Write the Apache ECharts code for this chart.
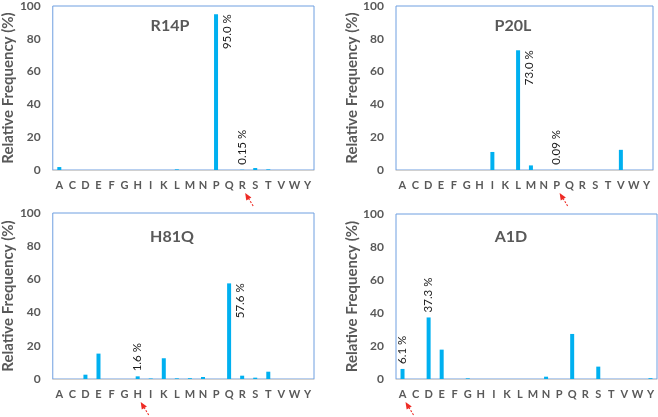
<!DOCTYPE html>
<html><head><meta charset="utf-8">
<script src="https://cdn.jsdelivr.net/npm/echarts@6/dist/echarts.min.js"></script>
<style>html,body{margin:0;padding:0;background:#fff}#c{width:658px;height:417px}</style>
</head><body><div id="c"></div>
<script>
const categories = ['A','C','D','E','F','G','H','I','K','L','M','N','P','Q','R','S','T','V','W','Y'];
const panelTitles = ['R14P','P20L','H81Q','A1D'];
//                 A    C  D    E    F  G    H    I    K    L    M    N    P     Q     R     S    T    V     W  Y
const r14pValues = [1.8, 0, 0,   0,   0, 0,   0,   0,   0,   0.4, 0,   0,   95.0, 0,    0.15, 1.2, 0.4, 0,    0, 0];
const p20lValues = [0,   0, 0,   0,   0, 0,   0,   11.0,0,   73.0,2.8, 0,   0.09, 0,    0,    0,   0,   12.3, 0, 0];
const h81qValues = [0,   0, 2.6, 15.3,0, 0,   1.6, 0.3, 12.5,0.4, 0.5, 1.2, 0,    57.6, 2.0,  0.8, 4.4, 0,    0, 0];
const a1dValues  = [6.1, 0, 37.3,17.8,0, 0.4, 0,   0,   0,   0,   0,   1.4, 0,    27.3, 0,    7.5, 0,   0,    0, 0.5];
const r14pNotes = {P:'95.0 %', R:'0.15 %'};
const p20lNotes = {L:'73.0 %', P:'0.09 %'};
const h81qNotes = {H:'1.6 %', Q:'57.6 %'};
const a1dNotes  = {A:'6.1 %', D:'37.3 %'};
const mutatedResidues = ['R','P','H','A'];
const yTicks = [0,20,40,60,80,100];
const yAxisName = 'Relative Frequency (%)';

const panelValues = [r14pValues, p20lValues, h81qValues, a1dValues];
const panelNotes = [r14pNotes, p20lNotes, h81qNotes, a1dNotes];

const FONT = 'Lato';
const GRAY = '#595959';
const grids = [
  {left:52, top:4, width:262, height:166},
  {left:396, top:4, width:257, height:166},
  {left:52, top:213, width:262, height:166},
  {left:396, top:214, width:261, height:165}
];
const titlePos = [[170,18],[513,18],[172,229],[511,229]];

function buildData(values, notes){
  return values.map((v,i)=>{
    const note = notes[categories[i]];
    if(!note) return v;
    if (v > 50) {
      return {value:v, label:{show:true, formatter:note, position:[13,0], rotate:90, align:'right', verticalAlign:'middle'}};
    }
    return {value:v, label:{show:true, formatter:note, position:'top', distance:5, rotate:90, align:'left', verticalAlign:'middle'}};
  });
}

const chart = echarts.init(document.getElementById('c'), null, {renderer:'canvas'});
const option = {
  animation:false,
  backgroundColor:'#fff',
  title: panelTitles.map((t,i)=>({text:t, left:titlePos[i][0], top:titlePos[i][1], textAlign:'center', padding:0,
    textStyle:{fontFamily:FONT, fontSize:16, fontWeight:'bold', color:GRAY}})),
  grid: grids.map(g=>Object.assign({show:true, borderColor:'#6f9fe0', borderWidth:1, backgroundColor:'transparent'}, g)),
  xAxis: grids.map((g,i)=>({type:'category', gridIndex:i, data:categories,
    axisLine:{show:true, lineStyle:{color:'#d0d0d0', width:1}}, axisTick:{show:false},
    axisLabel:{interval:0, margin:10, color:GRAY, fontFamily:FONT, fontSize:11, fontWeight:'bold'}})),
  yAxis: grids.map((g,i)=>({type:'value', gridIndex:i, min:yTicks[0], max:yTicks[yTicks.length-1], interval:yTicks[1]-yTicks[0],
    name:yAxisName, nameLocation:'middle', nameGap:32,
    nameTextStyle:{fontFamily:FONT, fontSize:15, fontWeight:'bold', color:GRAY},
    axisLine:{show:false}, axisTick:{show:false}, splitLine:{show:false},
    axisLabel:{margin:12, color:GRAY, fontFamily:FONT, fontSize:12, fontWeight:'bold'}})),
  series: panelValues.map((vals,i)=>({type:'bar', xAxisIndex:i, yAxisIndex:i, barWidth:4,
    itemStyle:{color:'#00b0f0'},
    label:{show:false, fontFamily:FONT, fontSize:11.5, color:'#1a1a1a'},
    data:buildData(vals, panelNotes[i])}))
};
chart.setOption(option);

const graphics = [];
mutatedResidues.forEach((res,i)=>{
  const p = chart.convertToPixel({gridIndex:i}, [categories.indexOf(res), 0]);
  const tip = [p[0]+3, p[1]+23], tail = [p[0]+11, p[1]+36];
  const dx = tip[0]-tail[0], dy = tip[1]-tail[1], len = Math.hypot(dx,dy);
  const ux = dx/len, uy = dy/len, px = -uy, py = ux;
  const hl = 7, hw = 3;
  const base = [tip[0]-ux*hl, tip[1]-uy*hl];
  graphics.push({type:'line', shape:{x1:tail[0], y1:tail[1], x2:base[0], y2:base[1]},
    style:{stroke:'#ee2a24', lineWidth:1.1, lineDash:[2,1.5]}, silent:true});
  graphics.push({type:'polygon', shape:{points:[tip,[base[0]+px*hw, base[1]+py*hw],[base[0]-px*hw, base[1]-py*hw]]},
    style:{fill:'#ee2a24'}, silent:true});
});
chart.setOption({graphic:graphics});
</script></body></html>
